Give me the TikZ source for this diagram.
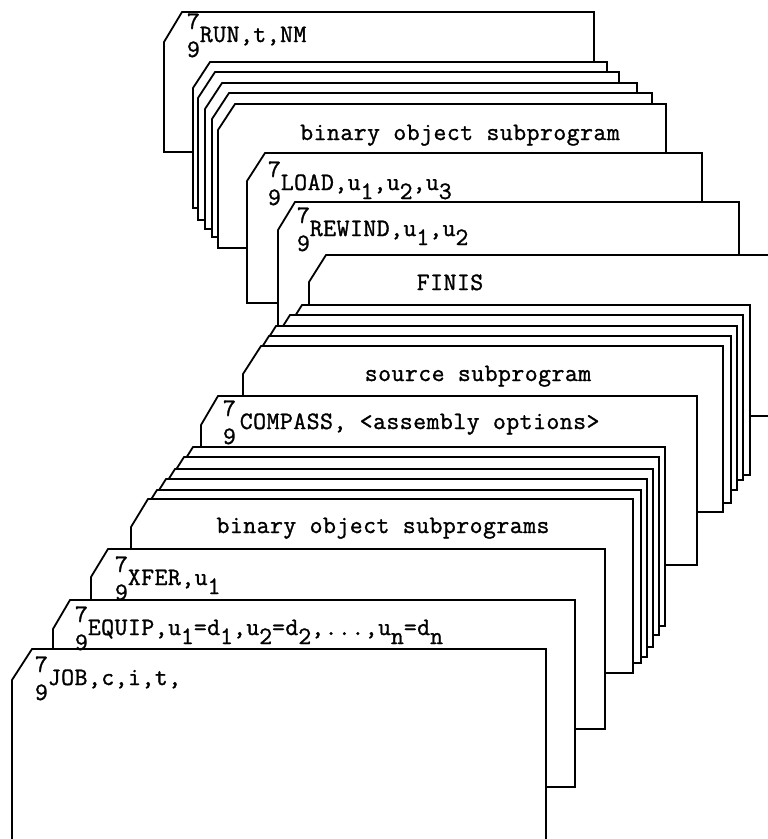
\documentclass[tikz,border=0pt]{standalone}
\usepackage{fontspec}
\newfontfamily\typew{Latin Modern Mono}[LetterSpace=2,FakeBold=1.2]
% a card: left x, corner x, top y, cut height, bottom y, right x
\newcommand\deckcard[6]{%
  \filldraw[card] (#1,#5) -- (#1,{#3+#4}) -- (#2,#3) -- (#6,#3) -- (#6,#5) -- cycle;}
\newcommand\sevnine[1]{\rlap{\raisebox{13pt}{7}}\raisebox{-15pt}{9}#1}
\newcommand\lowsub[1]{\raisebox{-9pt}{#1}}
\begin{document}
\begin{tikzpicture}[x=1pt,y=-1pt,
  card/.style={draw=black,fill=white,line width=1.8pt,line join=miter},
  lbl/.style={inner sep=0pt,outer sep=0pt,
    font=\typew\fontsize{25}{28}\selectfont}]
\useasboundingbox (0,0) rectangle (768,839);
\clip (0,0) rectangle (768,839);
% RUN card (back of deck)
\deckcard{164}{182}{12}{30}{152}{594}
% binary object subprogram stack (upper)
\deckcard{193}{210}{62}{26}{208}{607}
\deckcard{198}{215}{72}{26}{220}{619}
\deckcard{205}{222}{83}{26}{229}{637}
\deckcard{212}{229}{93}{26}{237}{652}
\deckcard{218}{235}{104}{26}{248}{666}
% LOAD
\deckcard{247}{265}{153}{28}{303}{702}
% REWIND
\deckcard{278}{295}{202}{28}{430}{739}
% FINIS
\deckcard{309}{326}{255}{27}{416}{800}
% source subprogram stack
\deckcard{285}{302}{305}{27}{475}{750}
\deckcard{273}{290}{315}{27}{480}{743}
\deckcard{259}{276}{326}{27}{490}{737}
\deckcard{252}{269}{336}{27}{503}{731}
\deckcard{243}{261}{346}{28}{512}{723}
% COMPASS
\deckcard{201}{218}{396}{29}{565}{697}
% binary object subprograms stack (lower)
\deckcard{176}{193}{447}{27}{626}{665}
\deckcard{167}{184}{457}{27}{635}{659}
\deckcard{158}{175}{469}{27}{647}{653}
\deckcard{149}{166}{479}{27}{657}{647}
\deckcard{140}{157}{490}{27}{663}{641}
\deckcard{131}{148}{499}{28}{673}{633}
% XFER
\deckcard{91}{108}{549}{28}{729}{605}
% EQUIP
\deckcard{53}{70}{600}{29}{787}{575}
% JOB (front of deck)
\deckcard{12}{32}{649}{31}{860}{546}
% labels
\node[lbl,anchor=base west] (run) at (187,42) {\sevnine{RUN,t,NM}};
\node[lbl,anchor=base] (bosa) at (460,140) {binary object subprogram};
\node[lbl,anchor=base west] (load) at (268,190) {\sevnine{LOAD,u\lowsub{1},u\lowsub{2},u\lowsub{3}}};
\node[lbl,anchor=base west] (rewind) at (297,236) {\sevnine{REWIND,u\lowsub{1},u\lowsub{2}}};
\node[lbl,anchor=base] (finis) at (450,290) {FINIS};
\node[lbl,anchor=base] (source) at (478,381) {source subprogram};
\node[lbl,anchor=base west] (compass) at (223,429) {\sevnine{\hspace{4pt}COMPASS, <assembly options>}};
\node[lbl,anchor=base] (bosb) at (383,533) {binary object subprograms};
\node[lbl,anchor=base west] (xfer) at (115,585) {\sevnine{XFER,u\lowsub{1}}};
\node[lbl,anchor=base west] (equip) at (75,635) {\sevnine{EQUIP,u\lowsub{1}=d\lowsub{1},u\lowsub{2}=d\lowsub{2},...,u\lowsub{n}=d\lowsub{n}}};
\node[lbl,anchor=base west] (job) at (35,685) {\sevnine{JOB,c,i,t,}};
\end{tikzpicture}
\end{document}
